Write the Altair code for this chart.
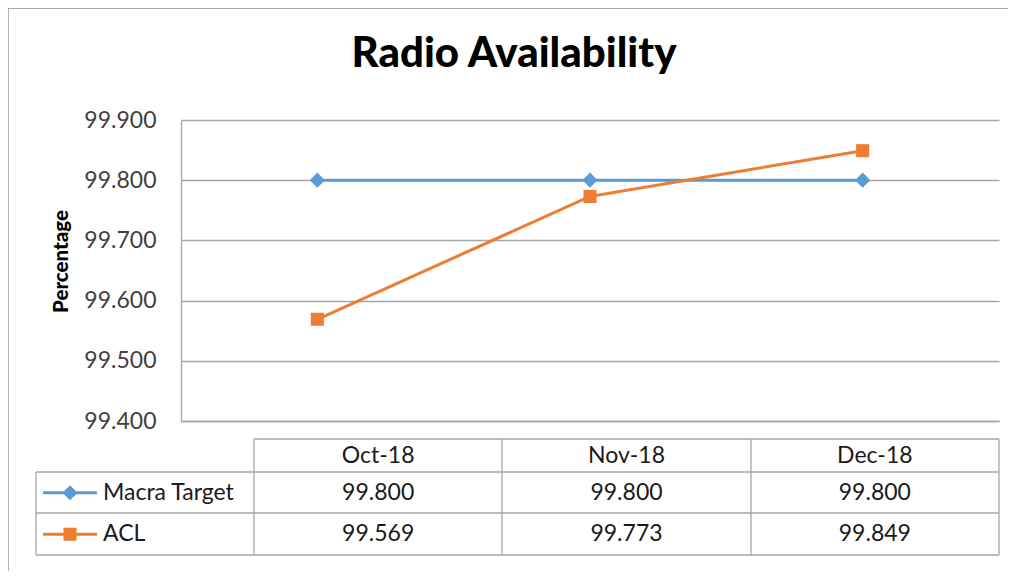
import altair as alt
import pandas as pd

months = ["Oct-18", "Nov-18", "Dec-18"]
series_names = ["Macra Target", "ACL"]
macra_target = [99.800, 99.800, 99.800]
acl = [99.569, 99.773, 99.849]
y_ticks = [99.4, 99.5, 99.6, 99.7, 99.8, 99.9]

rows = []
for s, vals in zip(series_names, [macra_target, acl]):
    for m, v in zip(months, vals):
        rows.append({"series": s, "month": m, "value": v})
df = pd.DataFrame(rows)
hdr = pd.DataFrame({"month": months})
ser = pd.DataFrame({"series": series_names})
one = pd.DataFrame({"a": [0]})

FONT = "Lato"
GRID = "#a6a6a6"
colors = alt.Scale(domain=series_names, range=["#5B9BD5", "#ED7D31"])
shapes = alt.Scale(domain=series_names, range=["diamond", "square"])
sizes_main = alt.Scale(domain=series_names, range=[230, 170])
sizes_leg = alt.Scale(domain=series_names, range=[170, 120])

W, H = 818, 301

x_main = alt.X("month:O", sort=months, scale=alt.Scale(type="point", padding=0.5),
               axis=alt.Axis(labels=False, ticks=False, title=None, domainColor=GRID,
                             domainWidth=1.3, grid=False))
y_main = alt.Y("value:Q", scale=alt.Scale(domain=[99.4, 99.9], nice=False, zero=False),
               axis=alt.Axis(values=y_ticks, format=".3f", title="Percentage",
                             labelFont=FONT, labelFontSize=23, labelColor="#404040",
                             labelPadding=25, ticks=False, domainColor=GRID, domainWidth=1.3,
                             gridColor=GRID, gridWidth=1.3,
                             titleFont=FONT, titleFontSize=20.5, titleFontWeight=900,
                             titleColor="black", titleX=-120, titleY=141,
                             titleBaseline="middle", titleAngle=-90))

base = alt.Chart(df)
lines = base.mark_line(strokeWidth=3).encode(
    x=x_main, y=y_main,
    color=alt.Color("series:N", scale=colors, legend=None),
    detail="series:N",
)
pts = base.mark_point(filled=True, opacity=1).encode(
    x=x_main, y="value:Q",
    color=alt.Color("series:N", scale=colors, legend=None),
    shape=alt.Shape("series:N", scale=shapes, legend=None),
    size=alt.Size("series:N", scale=sizes_main, legend=None),
)
main = alt.layer(lines, pts)

# data table
x_tab = alt.X("month:O", sort=months,
              scale=alt.Scale(type="band", range=[73, 818], paddingInner=0, paddingOuter=0),
              axis=None)
y_tab = alt.Y("series:N", sort=series_names,
              scale=alt.Scale(type="band", range=[352, 435], paddingInner=0, paddingOuter=0),
              axis=None)

hdr_text = alt.Chart(hdr).mark_text(font=FONT, fontSize=23, color="#1a1a1a",
                                    baseline="middle").encode(
    x=x_tab, y=alt.value(336), text="month:N")
val_text = alt.Chart(df).mark_text(font=FONT, fontSize=23, color="#1a1a1a",
                                   baseline="middle").encode(
    x=x_tab, y=y_tab, text=alt.Text("value:Q", format=".3f"))
leg_line = alt.Chart(ser).mark_rule(strokeWidth=3).encode(
    x=alt.value(-138), x2=alt.value(-84), y=y_tab,
    color=alt.Color("series:N", scale=colors, legend=None))
leg_pt = alt.Chart(ser).mark_point(filled=True, opacity=1).encode(
    x=alt.value(-111), y=y_tab,
    color=alt.Color("series:N", scale=colors, legend=None),
    shape=alt.Shape("series:N", scale=shapes, legend=None),
    size=alt.Size("series:N", scale=sizes_leg, legend=None))
leg_text = alt.Chart(ser).mark_text(font=FONT, fontSize=23, color="#1a1a1a",
                                    align="left", baseline="middle").encode(
    x=alt.value(-78), y=y_tab, text="series:N")


def hline(x1, x2, y):
    return alt.Chart(one).mark_rule(color=GRID, strokeWidth=1.3).encode(
        x=alt.value(x1), x2=alt.value(x2), y=alt.value(y))


def vline(x, y1, y2):
    return alt.Chart(one).mark_rule(color=GRID, strokeWidth=1.3).encode(
        x=alt.value(x), y=alt.value(y1), y2=alt.value(y2))


table_lines = [
    hline(73, 818, 319), hline(-145, 818, 352), hline(-145, 818, 393), hline(-145, 818, 435),
    vline(-145, 352, 435), vline(73, 319, 435), vline(321, 319, 435),
    vline(570, 319, 435), vline(818, 319, 435),
]

border = alt.Chart(one).mark_rect(fill=None, stroke="#8c8c8c", strokeWidth=1.3).encode(
    x=alt.value(-173), x2=alt.value(900), y=alt.value(-112), y2=alt.value(500))

title = alt.Chart(one).mark_text(text="Radio Availability", font=FONT, fontSize=42,
                                 fontWeight=900, color="black", align="center",
                                 baseline="alphabetic").encode(
    x=alt.value(333), y=alt.value(-53))

table = alt.layer(*table_lines, hdr_text, val_text, leg_line, leg_pt, leg_text)

chart = alt.layer(border, title, main, table).resolve_scale(
    x="independent", y="independent"
).properties(
    width=W, height=H,
    padding={"left": 173, "top": 112, "right": 9, "bottom": 150},
    autosize=alt.AutoSizeParams(type="none"),
    background="white",
).configure_view(stroke=None)

chart.save("out.html", embed_options={"renderer": "svg", "actions": False})
